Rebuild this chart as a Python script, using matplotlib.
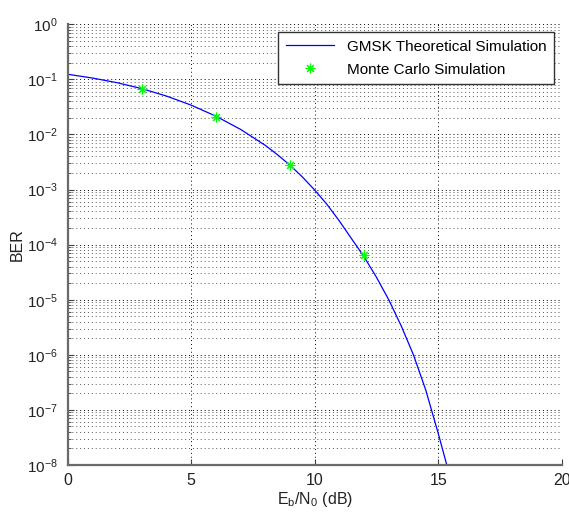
import numpy as np
import matplotlib as mpl
mpl.use('Agg')
import matplotlib.pyplot as plt
from matplotlib.ticker import NullFormatter, FixedLocator, LogFormatterSciNotation

# curve (Eb/N0 in dB, BER)
ebno_theory = [0, 1, 2, 3, 4, 5, 6, 7, 8, 8.5, 9, 9.5, 10, 10.5, 11, 11.5, 12, 12.5,
               13, 13.5, 14, 14.5, 15, 15.4]
ber_theory = [0.1239, 0.1059, 0.0871, 0.0680, 0.0498, 0.0341, 0.0215, 0.01238, 6.35e-3,
              4.27e-3, 2.77e-3, 1.70e-3, 9.83e-4, 5.37e-4, 2.69e-4, 1.27e-4, 6.03e-5,
              2.57e-5, 1.0e-5, 3.39e-6, 1.0e-6, 2.29e-7, 3.80e-8, 8.3e-9]

# monte carlo points
ebno_mc = [3, 6, 9, 12]
ber_mc = [0.068, 0.0208, 2.84e-3, 6.4e-5]

xticks = [0, 5, 10, 15, 20]
yexps = list(range(-8, 1))

mpl.rcParams.update({
    "font.family": "Liberation Sans",
    "font.size": 10,
    "mathtext.fontset": "custom",
    "mathtext.rm": "Liberation Sans",
    "mathtext.it": "Liberation Sans",
    "mathtext.default": "regular",
})

fig = plt.figure(figsize=(5.69, 5.13), dpi=100)
ax = fig.add_axes([0.119, 0.0936, 0.868, 0.859])

ax.semilogy(ebno_theory, ber_theory, color=(0, 0, 1), lw=0.9, label='GMSK Theoretical Simulation')
ax.semilogy(ebno_mc, ber_mc, linestyle='none', marker=(8, 2, 0), color=(0, 1, 0), ms=7, mew=0.8,
            label='Monte Carlo Simulation')

ax.set_xlim(0, 20)
ax.set_ylim(1e-8, 1)
ax.xaxis.set_major_locator(FixedLocator(xticks))
ax.yaxis.set_major_locator(FixedLocator([10.0 ** e for e in yexps]))
ax.yaxis.set_major_formatter(LogFormatterSciNotation())
ax.yaxis.set_minor_locator(FixedLocator([m * 10.0 ** e for e in yexps[:-1] for m in range(2, 10)]))
ax.yaxis.set_minor_formatter(NullFormatter())

ax.grid(True, which='major', axis='both', color='black', linestyle=(0, (1, 3)), lw=0.7)
ax.grid(True, which='minor', axis='y', color='#555555', linestyle=(0, (1, 3)), lw=0.7)

for s in ['top', 'right']:
    ax.spines[s].set_visible(False)
for s in ['left', 'bottom']:
    ax.spines[s].set_color('#6a6a6a')
    ax.spines[s].set_linewidth(1.6)

ax.tick_params(which='both', direction='in', colors='#404040', labelcolor='#222222')
ax.tick_params(which='major', length=4, labelsize=11.5, pad=6)
ax.tick_params(axis='y', which='major', labelsize=11, pad=7)
ax.tick_params(which='minor', length=2)

ax.set_xlabel(r'E$_b$/N$_0$ (dB)', fontsize=11.5, color='#222222', labelpad=1)
ax.set_ylabel('BER', fontsize=11.5, color='#222222')
ax.yaxis.set_label_coords(-0.086, 0.5)

leg = ax.legend(loc='upper right', fontsize=11, fancybox=False, framealpha=1,
                edgecolor='#333333', borderaxespad=0.5, handlelength=3.2,
                borderpad=0.5, labelspacing=0.6)
leg.get_frame().set_linewidth(1.0)

fig.savefig('out.png', dpi=100)
